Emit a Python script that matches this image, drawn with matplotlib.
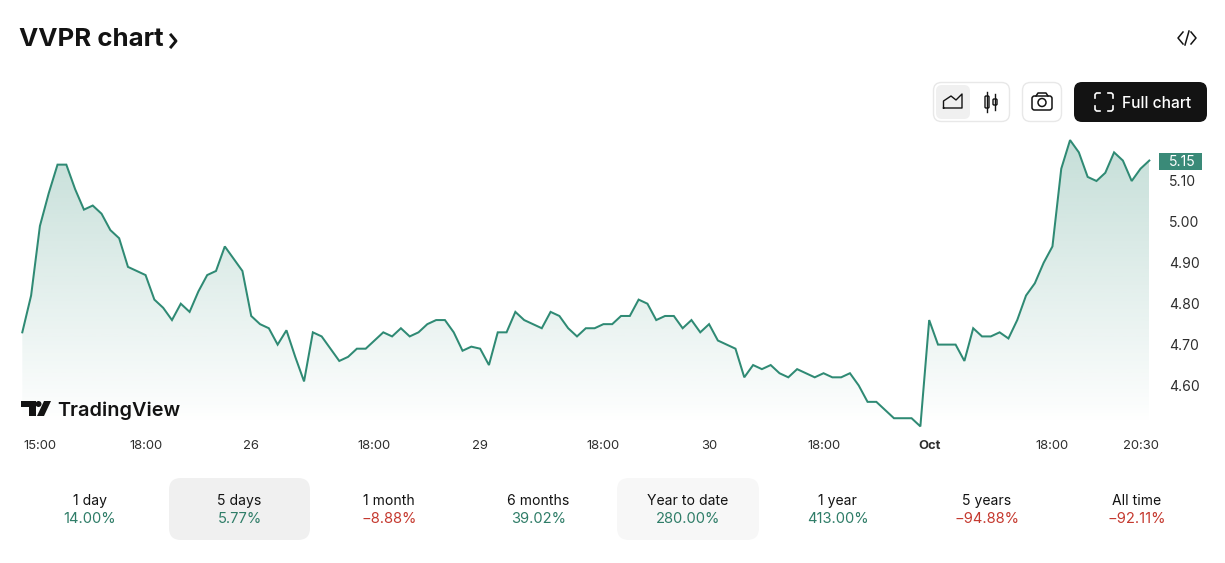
import numpy as np
import matplotlib
matplotlib.use('Agg')
import matplotlib.pyplot as plt
from matplotlib.patches import FancyBboxPatch, Rectangle, Circle

W, H = 1225, 563

prices = [4.73, 4.82, 4.99, 5.07, 5.14, 5.14, 5.08, 5.03, 5.04, 5.02, 4.98, 4.96, 4.89, 4.88, 4.87,
          4.81, 4.79, 4.76, 4.80, 4.78, 4.83, 4.87, 4.88, 4.94, 4.91, 4.88, 4.77, 4.75, 4.74, 4.70,
          4.735, 4.67, 4.61, 4.73, 4.72, 4.69, 4.66, 4.67, 4.69, 4.69, 4.71, 4.73, 4.72, 4.74, 4.72,
          4.73, 4.75, 4.76, 4.76, 4.73, 4.685, 4.695, 4.69, 4.65, 4.73, 4.73, 4.78, 4.76, 4.75, 4.74,
          4.78, 4.77, 4.74, 4.72, 4.74, 4.74, 4.75, 4.75, 4.77, 4.77, 4.81, 4.80, 4.76, 4.77, 4.77,
          4.74, 4.76, 4.73, 4.75, 4.71, 4.70, 4.69, 4.62, 4.65, 4.64, 4.65, 4.63, 4.62, 4.64, 4.63,
          4.62, 4.63, 4.62, 4.62, 4.63, 4.60, 4.56, 4.56, 4.54, 4.52, 4.52, 4.52, 4.50, 4.76, 4.70,
          4.70, 4.70, 4.66, 4.74, 4.72, 4.72, 4.73, 4.715, 4.76, 4.82, 4.85, 4.90, 4.94, 5.13, 5.20,
          5.17, 5.11, 5.10, 5.12, 5.17, 5.15, 5.10, 5.13, 5.15]

time_ticks = [2, 14, 26, 40, 52, 66, 78, 91, 103, 117, 127]
time_labels = ['15:00', '18:00', '26', '18:00', '29', '18:00', '30', '18:00', 'Oct', '18:00', '20:30']
price_ticks = [4.60, 4.70, 4.80, 4.90, 5.00, 5.10]

periods = ['1 day', '5 days', '1 month', '6 months', 'Year to date', '1 year', '5 years', 'All time']
changes = ['14.00%', '5.77%', '\u22128.88%', '39.02%', '280.00%', '413.00%', '\u221294.88%', '\u221292.11%']

GREEN = '#2f8a74'
UP = '#2f7d68'
DOWN = '#c5392f'
INK = '#131313'

plt.rcParams['font.family'] = ['Inter', 'DejaVu Sans']

fig = plt.figure(figsize=(W / 100, H / 100), dpi=100, facecolor='white')

# main price axes, placed by pixels
left, right, top, bottom = 22.3, 1149.3, 130, 425
ax = fig.add_axes([left / W, 1 - bottom / H, (right - left) / W, (bottom - top) / H])
x = np.arange(len(prices))
ymax = 5.10 + (181 - top) / 409
ymin = 5.10 - (bottom - 181) / 409
ax.set_xlim(0, len(prices) - 1)
ax.set_ylim(ymin, ymax)

# area fill fades down to white
fill = ax.fill_between(x, prices, ymin, facecolor='none', edgecolor='none')
grad = np.ones((256, 1, 4))
grad[:, 0, 0] = 47 / 255
grad[:, 0, 1] = 138 / 255
grad[:, 0, 2] = 116 / 255
grad[:, 0, 3] = np.linspace(0.28, 0.0, 256)
im = ax.imshow(grad, extent=[0, len(prices) - 1, ymin, 5.20], origin='upper', aspect='auto', zorder=1)
im.set_clip_path(fill.get_paths()[0], transform=ax.transData)
ax.set_xlim(0, len(prices) - 1)
ax.set_ylim(ymin, ymax)

ax.plot(x, prices, color=GREEN, lw=1.45, solid_joinstyle='miter', zorder=2, clip_on=False)

for s in ax.spines.values():
    s.set_visible(False)
ax.set_xticks(time_ticks)
ax.set_xticklabels(time_labels, fontsize=9.4, color='#2e2e2e')
ax.tick_params(axis='x', length=0, pad=10.8)
ax.yaxis.tick_right()
ax.set_yticks(price_ticks)
ax.set_yticklabels(['%.2f' % p for p in price_ticks], fontsize=10.1, color='#2e2e2e')
ax.tick_params(axis='y', length=0, pad=14)
for lab in ax.get_xticklabels():
    if lab.get_text() == 'Oct':
        lab.set_fontweight('bold')

# page furniture in pixel coordinates
ui = fig.add_axes([0, 0, 1, 1], facecolor='none')
ui.set_xlim(0, W)
ui.set_ylim(H, 0)
ui.axis('off')


def box(x0, y0, w, h, r, fc, ec='none', lw=1):
    ui.add_patch(FancyBboxPatch((x0, y0), w, h, boxstyle='round,pad=0,rounding_size=%s' % r,
                                fc=fc, ec=ec, lw=lw))


ui.text(19, 40, 'VVPR chart', fontsize=18.6, fontweight=700, color=INK, va='center')
ui.plot([171, 176, 171], [35, 41, 47], color=INK, lw=2.1)

# embed icon
ui.plot([1183, 1178, 1183], [32, 38, 44], color=INK, lw=1.1)
ui.plot([1191, 1196, 1191], [32, 38, 44], color=INK, lw=1.1)
ui.plot([1185, 1189], [45, 31], color=INK, lw=1.1)

# chart style buttons
box(933.5, 82.5, 76, 39, 8, 'white', '#e8e8e8')
box(936, 85, 34, 34, 6, '#f0f0f0')
ui.plot([943.5, 943.5, 951, 956, 962, 962, 943.5], [108, 101, 96, 100, 94, 108, 108], color=INK, lw=1.0)
ui.plot([987, 987], [92, 112], color=INK, lw=1.0)
box(985, 96, 4, 12, 1, 'white', INK, 1.0)
ui.plot([995, 995], [94, 110], color=INK, lw=1.0)
box(993, 99, 4, 6, 1, 'white', INK, 1.0)

# camera button
box(1022.5, 82.5, 39, 39, 8, 'white', '#e8e8e8')
box(1032, 96, 20, 14, 2.5, 'white', INK, 1.1)
ui.plot([1036, 1038, 1046, 1048], [96, 93, 93, 96], color=INK, lw=1.1)
ui.add_patch(Circle((1042, 102.5), 4, fc='white', ec=INK, lw=1.1))

# full chart button
box(1074, 82, 133, 40, 8, INK)
for cx, cy, sx, sy in [(1095, 93, 1, 1), (1113, 93, -1, 1), (1095, 111, 1, -1), (1113, 111, -1, -1)]:
    ui.plot([cx, cx, cx + 1.5 * sx, cx + 5 * sx], [cy + 5 * sy, cy + 1.5 * sy, cy, cy],
            color='white', lw=1.2)
ui.text(1122, 103, 'Full chart', fontsize=11.2, fontweight=500, color='white', va='center')

# last price badge
ui.add_patch(Rectangle((1159, 153), 43, 17, fc='#3a8a78', ec='none'))
ui.text(1182, 161.5, '%.2f' % prices[-1], fontsize=10.1, color='white', ha='center', va='center')

# TradingView logo
ui.add_patch(Rectangle((21, 401), 15, 6, fc=INK, ec='none'))
ui.add_patch(Rectangle((29, 401), 7, 15, fc=INK, ec='none'))
ui.add_patch(Circle((38.5, 404), 3, fc=INK, ec='none'))
ui.fill([44, 51, 44, 37], [401, 401, 416, 416], color=INK, lw=0)
ui.text(57.5, 410.5, 'TradingView', fontsize=14.3, fontweight=600, color=INK, va='center')

# period tabs
box(169, 478, 141, 62, 12, '#f0f0f0')
box(617, 478, 142, 62, 12, '#f7f7f7')
for i, (p, c) in enumerate(zip(periods, changes)):
    cx = 90 + 149.5 * i
    ui.text(cx, 501, p, fontsize=10.1, color=INK, ha='center', va='center')
    ui.text(cx, 519, c, fontsize=10.6, color=DOWN if c.startswith('\u2212') else UP, ha='center', va='center')

fig.savefig('out.png', dpi=100)
